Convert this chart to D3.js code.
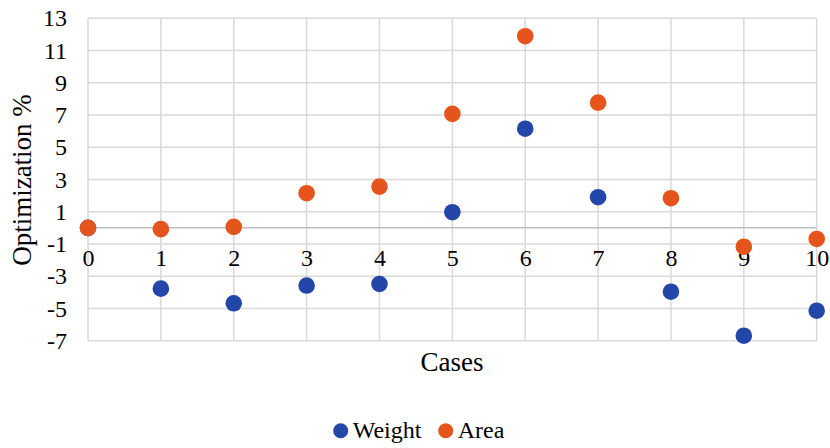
<!DOCTYPE html>
<html><head><meta charset="utf-8">
<script src="https://cdn.jsdelivr.net/npm/d3@7"></script>
<style>body{margin:0;background:#fff}svg{display:block}
svg text{font-family:"Liberation Serif","Times New Roman","DejaVu Serif",serif}</style>
</head><body>
<svg id="c" width="830" height="448"></svg>
<script>
const cases = [0,1,2,3,4,5,6,7,8,9,10];
const weight = [0,-3.77,-4.68,-3.58,-3.48,0.97,6.15,1.9,-3.96,-6.69,-5.14];
const area = [0,-0.08,0.06,2.15,2.56,7.07,11.89,7.77,1.84,-1.17,-0.69];
const yTicks = [-7,-5,-3,-1,1,3,5,7,9,11,13];
const seriesNames = ["Weight","Area"];
const colors = ["#2347A8","#E5541A"];

const svg = d3.select("#c");
const x = d3.scaleLinear().domain([0,10]).range([88,816.7]);
const y = d3.scaleLinear().domain([-7,13]).range([340.7,18.3]);

// grid
svg.append("g").selectAll("line").data(yTicks).join("line")
  .attr("x1",x(0)).attr("x2",x(10)).attr("y1",d=>y(d)).attr("y2",d=>y(d))
  .attr("stroke","#d9d9d9").attr("stroke-width",1.5);
svg.append("g").selectAll("line").data(cases).join("line")
  .attr("x1",d=>x(d)).attr("x2",d=>x(d)).attr("y1",y(13)).attr("y2",y(-7))
  .attr("stroke","#d9d9d9").attr("stroke-width",1.5);
// zero axis line
svg.append("line").attr("x1",x(0)).attr("x2",x(10)).attr("y1",y(0)).attr("y2",y(0))
  .attr("stroke","#bfbfbf").attr("stroke-width",1.5);

// y axis labels
const yAxis = d3.axisLeft(y).tickValues(yTicks).tickSize(0).tickPadding(0).tickFormat(d=>String(d));
const gy = svg.append("g").attr("transform",`translate(${x(0)-21},0)`).call(yAxis);
gy.select(".domain").remove();
gy.attr("font-family",null);
gy.selectAll("text").attr("font-size",24).attr("fill","#000");

// x axis labels
const xAxis = d3.axisBottom(x).tickValues(cases).tickSize(0).tickPadding(0).tickFormat(d=>String(d));
const gx = svg.append("g").attr("transform",`translate(0,258)`).call(xAxis);
gx.select(".domain").remove();
gx.attr("font-family",null);
gx.selectAll("text").attr("y",0).attr("dy","0.35em").attr("font-size",24).attr("fill","#000");

// points
[weight,area].forEach((s,i)=>{
  svg.append("g").selectAll("circle").data(s).join("circle")
    .attr("cx",(d,j)=>x(cases[j])).attr("cy",d=>y(d)).attr("r",8.3)
    .attr("fill",colors[i]);
});

// titles
svg.append("text").attr("x",452).attr("y",371).attr("text-anchor","middle")
  .attr("font-size",27).text("Cases");
svg.append("text").attr("transform","translate(31,180) rotate(-90)").attr("text-anchor","middle")
  .attr("font-size",27).text("Optimization %");

// legend
const legX = [340.7,445.7];
seriesNames.forEach((n,i)=>{
  svg.append("circle").attr("cx",legX[i]).attr("cy",430.7).attr("r",7.5).attr("fill",colors[i]);
  svg.append("text").attr("x",legX[i]+12).attr("y",438)
    .attr("font-size",24).text(n);
});
</script>
</body></html>
